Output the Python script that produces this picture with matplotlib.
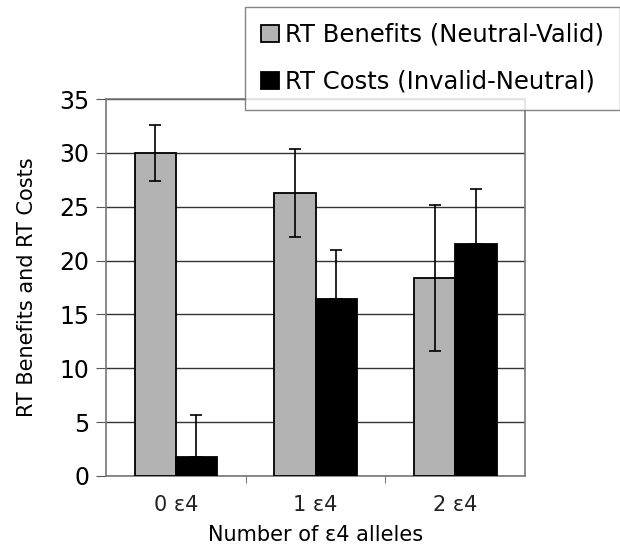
import numpy as np
import matplotlib
matplotlib.use("Agg")
import matplotlib.pyplot as plt

groups = ["0 \u03b54", "1 \u03b54", "2 \u03b54"]
benefits = [30.0, 26.3, 18.4]
benefits_err = [2.6, 4.1, 6.8]
costs = [1.8, 16.4, 21.5]
costs_err = [3.9, 4.6, 5.1]

plt.rcParams['font.family'] = ['DejaVu Sans']

fig = plt.figure(figsize=(6.2, 5.47), dpi=100)
ax = fig.add_axes([0.171, 0.13, 0.676, 0.689])

x = np.arange(len(groups))
w = 0.295
ax.bar(x - w/2, benefits, w, color='#b3b3b3', edgecolor='black', linewidth=1.3,
       yerr=benefits_err, error_kw=dict(ecolor='black', elinewidth=1.2, capsize=4, capthick=1.2),
       label='RT Benefits (Neutral-Valid)', zorder=3)
ax.bar(x + w/2, costs, w, color='black', edgecolor='black', linewidth=1.3,
       yerr=[[0]*3, costs_err], error_kw=dict(ecolor='black', elinewidth=1.2, capsize=4, capthick=1.2),
       label='RT Costs (Invalid-Neutral)', zorder=3)

ax.set_xlim(-0.5, 2.5)
ax.set_ylim(0, 35)
ax.set_yticks(range(0, 36, 5))
ax.yaxis.grid(True, color='#333333', linewidth=1.0, zorder=0)
ax.set_axisbelow(True)
ax.set_xticks(x)
ax.set_xticklabels(groups, fontsize=15, color='#222222')
ax.set_xticks([0.5, 1.5], minor=True)
ax.tick_params(axis='x', which='major', length=0, pad=14)
ax.tick_params(axis='x', which='minor', length=5, color='#555555')
ax.tick_params(axis='y', labelsize=17, length=7, color='#555555', pad=5)
for s in ax.spines.values():
    s.set_color('#777777')
    s.set_linewidth(1.2)

ax.set_xlabel("Number of \u03b54 alleles", fontsize=15, labelpad=7)
ax.set_ylabel("RT Benefits and RT Costs", fontsize=15, labelpad=16)

leg = fig.legend(loc='upper right', bbox_to_anchor=(1.0, 0.987), fontsize=17.5,
                 frameon=True, fancybox=False, edgecolor='#666666', handlelength=0.75,
                 handleheight=0.75, handletextpad=0.25, labelspacing=0.95, borderpad=0.65,
                 borderaxespad=0.0)
leg.get_frame().set_linewidth(1.0)

fig.savefig("out.png", dpi=100)
